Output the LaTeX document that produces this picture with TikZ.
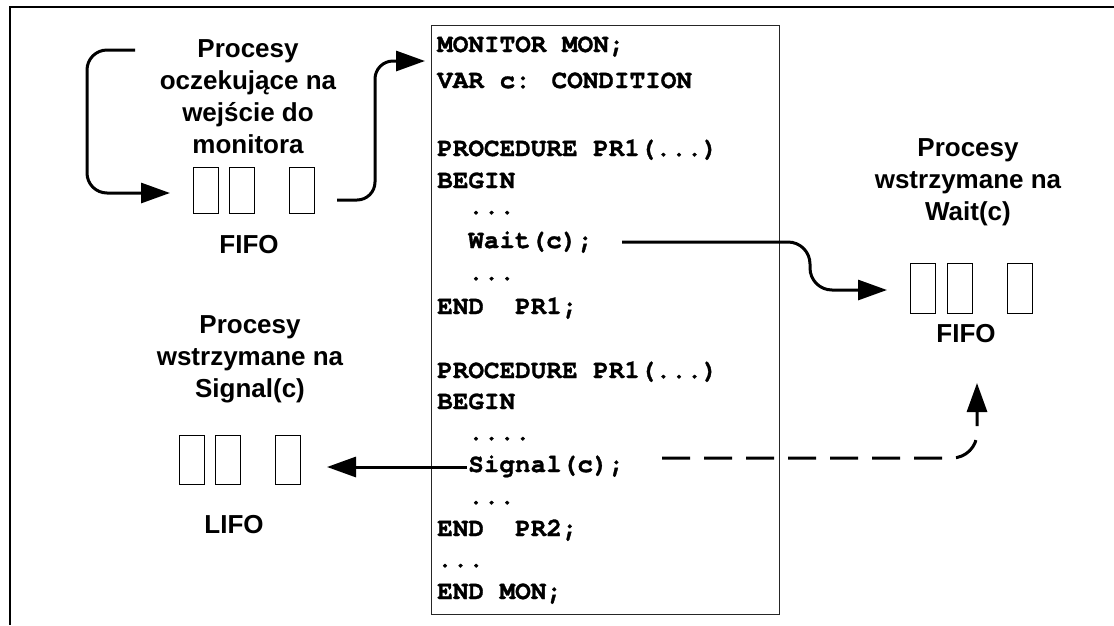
\documentclass[tikz,border=0pt]{standalone}
\usepackage{fontspec}
\newfontfamily\lsans{Liberation Sans}
\newfontfamily\lmono{TeX Gyre Cursor}[BoldFeatures={FakeBold=1.2}]
\usetikzlibrary{arrows.meta}
\begin{document}
\begin{tikzpicture}[x=1pt,y=-1pt,
  lbl/.style={font=\lsans\bfseries\fontsize{26}{32}\selectfont, inner sep=0pt, anchor=base},
  codeline/.style={font=\lmono\bfseries\fontsize{26}{32}\selectfont, inner sep=0pt, anchor=base west},
  qbox/.style={draw, line width=1pt, minimum width=25pt, minimum height=#1, inner sep=0pt},
  qbox/.default=48pt,
  arr/.style={line width=3pt, -{Triangle[length=29pt,width=20pt]}},
  ]
\useasboundingbox (0,0) rectangle (1114,625);
% outer frame (top and left edges)
\draw[line width=2pt] (1114,7) -- (10.3,7) -- (10.3,625);

% code box
\node[draw=black!85, line width=1.2pt, minimum width=348pt, minimum height=589pt, inner sep=0pt, anchor=north west] (codebox) at (431,25) {};
\node[codeline] (c1) at (437,52) {MONITOR MON;};
\node[codeline] (c2) at (437,88) {VAR c: CONDITION};
\node[codeline] (c3) at (437,156) {PROCEDURE PR1(...)};
\node[codeline] (c4) at (437,188) {BEGIN};
\node[codeline] (c5) at (468,214) {...};
\node[codeline] (wait) at (468,248) {Wait(c);};
\node[codeline] (c7) at (468,280) {...};
\node[codeline] (c8) at (437,314) {END\ \ PR1;};
\node[codeline] (c9) at (437,378) {PROCEDURE PR1(...)};
\node[codeline] (c10) at (437,409) {BEGIN};
\node[codeline] (c11) at (468,440) {....};
\node[codeline] (signal) at (468,472) {Signal(c);};
\node[codeline] (c13) at (468,504) {...};
\node[codeline] (c14) at (437,536) {END\ \ PR2;};
\node[codeline] (c15) at (437,567) {...};
\node[codeline] (c16) at (437,599) {END MON;};

% entry queue (top left)
\node[lbl] (tentry) at (248,57) {\begin{tabular}[t]{@{}c@{}}Procesy\\oczekujące na\\wejście do\\monitora\end{tabular}};
\node[qbox=46pt] (e1) at (205.5,190) {};
\node[qbox=46pt] (e2) at (241.5,190) {};
\node[qbox=46pt] (e3) at (301.5,190) {};
\node[lbl] (fifo1) at (249,253) {FIFO};

% wait queue (right)
\node[lbl] (twait) at (968,156) {\begin{tabular}[t]{@{}c@{}}Procesy\\wstrzymane na\\Wait(c)\end{tabular}};
\node[qbox=50pt] (w1) at (923,288) {};
\node[qbox=50pt] (w2) at (960,288) {};
\node[qbox=50pt] (w3) at (1020,288) {};
\node[lbl] (fifo2) at (966,342) {FIFO};

% signal queue (bottom left)
\node[lbl] (tsig) at (250,333) {\begin{tabular}[t]{@{}c@{}}Procesy\\wstrzymane na\\Signal(c)\end{tabular}};
\node[qbox=49pt] (s1) at (191.5,459.5) {};
\node[qbox=49pt] (s2) at (227.5,459.5) {};
\node[qbox=49pt] (s3) at (287.5,459.5) {};
\node[lbl] (lifo) at (234,533) {LIFO};

% connectors
\coordinate (a0) at (135,50);
\coordinate (a1) at (170,193);
\draw[arr, rounded corners=20pt] (a0) -- (87,50) -- (87,193) -- (a1);

\coordinate (b0) at (337,200);
\coordinate (b1) at (425,61);
\draw[arr, rounded corners=18pt] (b0) -- (375,200) -- (375,61) -- (b1);

\coordinate (w0) at (622,242);
\coordinate (wend) at (887,290);
\draw[arr, rounded corners=22pt] (w0) -- (810,242) -- (810,290) -- (wend);

\coordinate (s0) at (467,467);
\coordinate (send) at (327,467);
\draw[arr] (s0) -- (send);

\coordinate (d0) at (662,458);
\coordinate (dend) at (977,383);
\draw[arr, dash pattern=on 28pt off 14pt, rounded corners=25pt] (d0) -- (977,458) -- (dend);
\end{tikzpicture}
\end{document}
